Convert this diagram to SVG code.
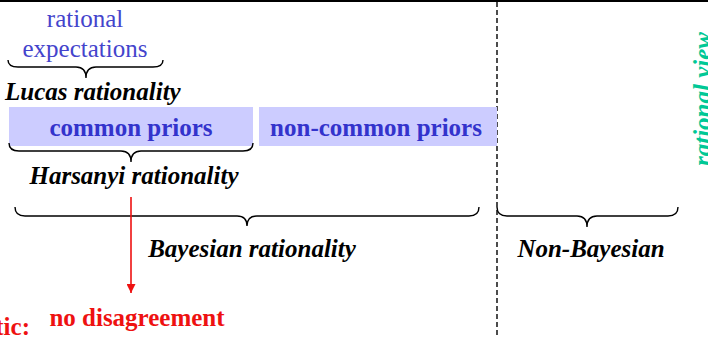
<svg xmlns="http://www.w3.org/2000/svg" width="708" height="338" viewBox="0 0 708 338">
<defs>
<style>
text{font-family:"Liberation Serif","Times New Roman",serif;font-size:25px}
.lbl{font-weight:bold;font-style:italic;fill:#000}
.blue{fill:#4444cc}
.box{fill:#ccccff}
.boxt{font-weight:bold;fill:#3333cc}
.brace{fill:none;stroke:#000;stroke-width:1.4}
.red{font-weight:bold;fill:#ee1111}
</style>
<marker id="ah" viewBox="0 0 10 10" refX="10" refY="5" markerWidth="9" markerHeight="9" markerUnits="userSpaceOnUse" orient="auto">
<path d="M0,0 L10,5 L0,10 z" fill="#ee1111"/>
</marker>
</defs>
<rect width="708" height="338" fill="#fff"/>
<line x1="0" y1="1" x2="708" y2="1" stroke="#000" stroke-width="2"/>
<line x1="497" y1="2" x2="497" y2="338" stroke="#000" stroke-width="1.4" stroke-dasharray="5,3"/>

<g id="rational-expectations">
<text class="blue" x="85" y="27" text-anchor="middle">rational</text>
<text class="blue" x="85" y="57" text-anchor="middle">expectations</text>
</g>
<g id="lucas">
<text class="lbl" x="5" y="100">Lucas rationality</text>
</g>
<g id="common-priors">
<rect class="box" x="9" y="107" width="244" height="39"/>
<text class="boxt" x="131" y="136" text-anchor="middle">common priors</text>
</g>
<g id="non-common-priors">
<rect class="box" x="259" y="107" width="238" height="39"/>
<text class="boxt" x="376" y="136" text-anchor="middle">non-common priors</text>
</g>
<g id="harsanyi">
<text class="lbl" x="134" y="184" text-anchor="middle">Harsanyi rationality</text>
</g>
<g id="bayesian">
<text class="lbl" x="252" y="257" text-anchor="middle">Bayesian rationality</text>
</g>
<g id="non-bayesian">
<text class="lbl" x="591" y="257" text-anchor="middle">Non-Bayesian</text>
</g>
<g id="rational-view">
<text x="711" y="99" text-anchor="middle" transform="rotate(-90 711 99)" style="font-weight:bold;font-style:italic;fill:#00c896">rational view</text>
</g>
<g id="no-disagreement">
<text class="red" x="137" y="326" text-anchor="middle">no disagreement</text>
</g>
<g id="tic">
<text class="red" x="30" y="335" text-anchor="end">tic:</text>
</g>

<g id="connectors">
<path class="brace" d="M8,60 Q8,67 18,67 L76,67 Q86,67 86,78 Q86,67 96,67 L153,67 Q163,67 163,60"/>
<path class="brace" d="M9,143 Q9,151 19,151 L121,151 Q131,151 131,162 Q131,151 141,151 L243,151 Q253,151 253,143"/>
<path class="brace" d="M15,207 Q15,216 25,216 L237,216 Q247,216 247,226 Q247,216 257,216 L469,216 Q479,216 479,207"/>
<path class="brace" d="M497,207 Q497,216 507,216 L577,216 Q587,216 587,227 Q587,216 597,216 L668,216 Q678,216 678,207"/>
<line x1="131" y1="197" x2="131" y2="293" stroke="#ee1111" stroke-width="1.6" marker-end="url(#ah)"/>
</g>
</svg>
